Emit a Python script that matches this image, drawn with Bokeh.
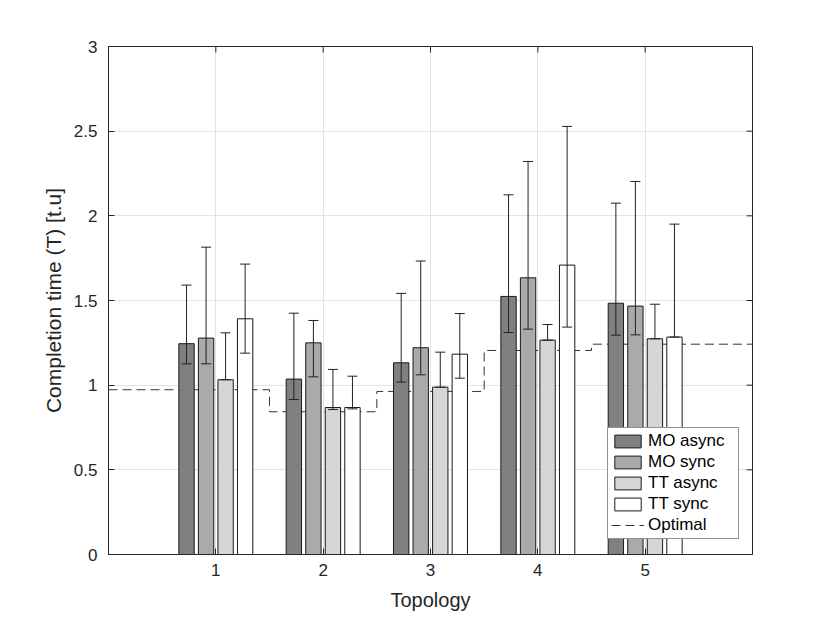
import math
from bokeh.plotting import figure
from bokeh.models import (ColumnDataSource, Whisker, TeeHead, Legend, LegendItem,
                          FixedTicker, Range1d)
from bokeh.transform import dodge
from bokeh.embed import file_html
from bokeh.resources import INLINE

# ---------------- data ----------------
topology = [1, 2, 3, 4, 5]
mo_async = [1.245, 1.036, 1.132, 1.524, 1.484]
mo_async_lo = [1.126, 0.915, 1.018, 1.311, 1.295]
mo_async_hi = [1.591, 1.425, 1.542, 2.124, 2.075]
mo_sync = [1.278, 1.250, 1.221, 1.634, 1.467]
mo_sync_lo = [1.126, 1.049, 1.061, 1.331, 1.297]
mo_sync_hi = [1.815, 1.382, 1.733, 2.321, 2.203]
tt_async = [1.032, 0.868, 0.988, 1.266, 1.274]
tt_async_lo = [1.032, 0.856, 0.988, 1.266, 1.274]
tt_async_hi = [1.309, 1.093, 1.195, 1.358, 1.478]
tt_sync = [1.392, 0.868, 1.183, 1.709, 1.284]
tt_sync_lo = [1.189, 0.860, 1.041, 1.343, 1.284]
tt_sync_hi = [1.715, 1.053, 1.423, 2.528, 1.951]
optimal = [0.973, 0.843, 0.963, 1.205, 1.242]
y_tick_values = [0, 0.5, 1, 1.5, 2, 2.5, 3]
y_tick_labels = ["0", "0.5", "1", "1.5", "2", "2.5", "3"]
series_names = ["MO async", "MO sync", "TT async", "TT sync"]
x_title = "Topology"
y_title = "Completion time (T) [t.u]"

FONT = "Liberation Sans"
TXT = "#262626"

src = ColumnDataSource(dict(
    x=topology,
    mo_async=mo_async, mo_async_lo=mo_async_lo, mo_async_hi=mo_async_hi,
    mo_sync=mo_sync, mo_sync_lo=mo_sync_lo, mo_sync_hi=mo_sync_hi,
    tt_async=tt_async, tt_async_lo=tt_async_lo, tt_async_hi=tt_async_hi,
    tt_sync=tt_sync, tt_sync_lo=tt_sync_lo, tt_sync_hi=tt_sync_hi,
))

p = figure(frame_width=644, frame_height=508, output_backend="svg",
           toolbar_location=None, x_range=Range1d(0, 6), y_range=Range1d(0, 3),
           min_border_left=108, min_border_right=70, min_border_top=46,
           min_border_bottom=65)
p.outline_line_color = TXT
p.outline_line_width = 1
p.background_fill_color = "white"
p.border_fill_color = "white"

# grid
p.xgrid.ticker = FixedTicker(ticks=topology)
p.ygrid.ticker = FixedTicker(ticks=y_tick_values)
for g in (p.xgrid, p.ygrid):
    g.grid_line_color = "#e3e3e3"
    g.grid_line_width = 1

# axes
p.xaxis.ticker = FixedTicker(ticks=topology)
p.yaxis.ticker = FixedTicker(ticks=y_tick_values)
p.yaxis.major_label_overrides = {v: s for v, s in zip(y_tick_values, y_tick_labels)}
p.xaxis.axis_label = x_title
p.yaxis.axis_label = y_title
for ax in (p.xaxis, p.yaxis):
    ax.axis_line_color = TXT
    ax.major_tick_line_color = TXT
    ax.major_tick_in = 6
    ax.major_tick_out = 0
    ax.minor_tick_line_color = None
    ax.major_label_text_font = FONT
    ax.major_label_text_font_size = "17px"
    ax.major_label_text_color = TXT
    ax.axis_label_text_font = FONT
    ax.axis_label_text_font_style = "normal"
    ax.axis_label_text_color = TXT
p.xaxis.axis_label_text_font_size = "20px"
p.yaxis.axis_label_text_font_size = "21px"
p.xaxis.major_label_standoff = 9
p.yaxis.major_label_standoff = 11
p.xaxis.axis_label_standoff = 10
p.yaxis.axis_label_standoff = 6

# box ticks on top and right (inward, clipped to frame)
p.scatter(x=topology, y=[p.y_range.end] * len(topology), marker="dash", size=12,
          angle=math.pi / 2, line_color=TXT, line_width=1)
p.scatter(x=[p.x_range.end] * len(y_tick_values), y=y_tick_values, marker="dash", size=12,
          line_color=TXT, line_width=1)

# optimal stairs (edges between topologies)
sx, sy = [], []
for i, (t, v) in enumerate(zip(topology, optimal)):
    left = p.x_range.start if i == 0 else t - 0.5
    rgt = p.x_range.end if i == len(topology) - 1 else t + 0.5
    sx += [left, rgt]
    sy += [v, v]
opt_r = p.line(sx, sy, line_color="#333333", line_dash="9 5", line_width=1)

# bars
keys = ["mo_async", "mo_sync", "tt_async", "tt_sync"]
colors = ["#808080", "#aaaaaa", "#d6d6d6", "#ffffff"]
offsets = [-0.273, -0.091, 0.091, 0.273]
bar_w = 0.143
bar_rs = []
for k, c, o in zip(keys, colors, offsets):
    r = p.vbar(x=dodge("x", o, range=p.x_range), top=k, width=bar_w, source=src,
               fill_color=c, line_color="#1a1a1a", line_width=1)
    bar_rs.append(r)

# error bars
for k, o in zip(keys, offsets):
    w = Whisker(base=dodge("x", o, range=p.x_range), upper=k + "_hi", lower=k + "_lo",
                source=src, line_color="#222222", line_width=1, level="annotation",
                upper_head=TeeHead(size=10, line_color="#222222", line_width=1),
                lower_head=TeeHead(size=10, line_color="#222222", line_width=1))
    p.add_layout(w)

# legend
items = [LegendItem(label=n, renderers=[r]) for n, r in zip(series_names, bar_rs)]
items.append(LegendItem(label="Optimal", renderers=[opt_r]))
legend = Legend(items=items, location=(499, 15), orientation="vertical",
                label_text_font=FONT, label_text_font_size="17px", label_text_color="#000000",
                glyph_width=33, glyph_height=16, label_height=20, label_width=87,
                label_standoff=4, spacing=1, padding=3, margin=0,
                border_line_color="#262626", border_line_width=1,
                background_fill_color="white", background_fill_alpha=1)
p.add_layout(legend)

open("out.html", "w").write(file_html(p, INLINE))
